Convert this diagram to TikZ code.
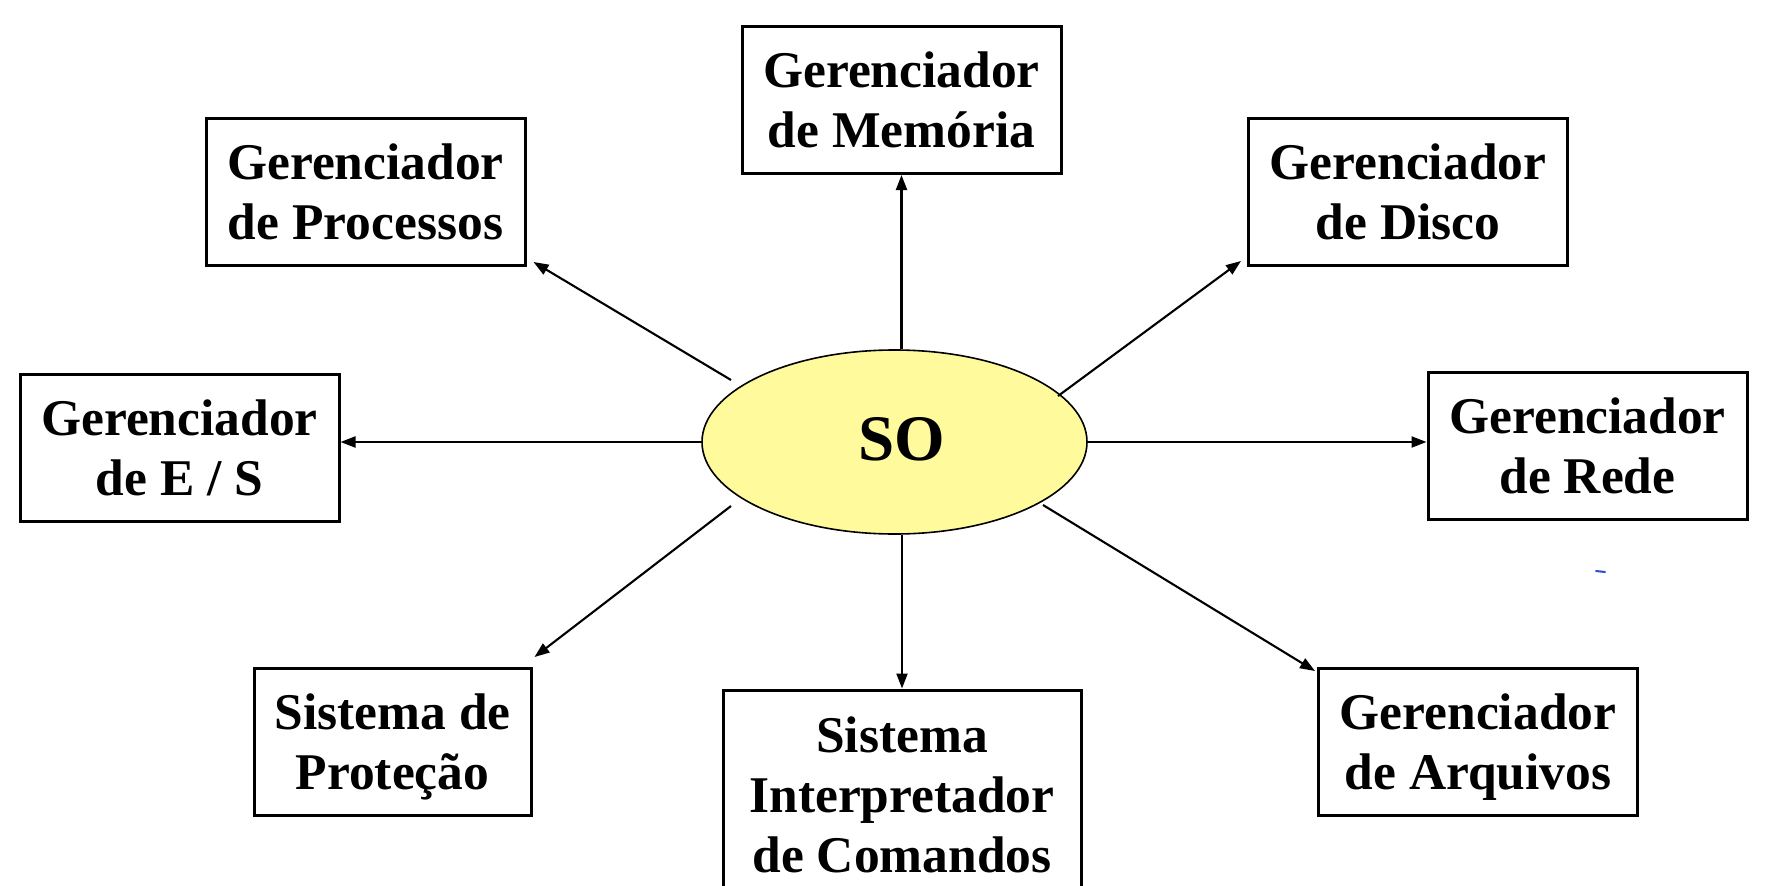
\documentclass[tikz,border=0pt]{standalone}
\usepackage{fontspec}
\setmainfont{Liberation Serif}
\usetikzlibrary{shapes.geometric,arrows.meta,calc}
\definecolor{soyellow}{HTML}{FFFB9C}
\definecolor{speck}{HTML}{2A4FD0}
\begin{document}
\begin{tikzpicture}[x=1pt,y=-1pt,
  box/.style={draw, line width=3pt, minimum height=147pt, minimum width=319pt,
    inner sep=0pt, align=center, text depth=0pt,
    font=\bfseries\fontsize{51.5}{60}\selectfont},
  arr/.style={line width=2.1pt, -{Triangle[length=15pt,width=11pt]}},
]
\useasboundingbox (0,0) rectangle (1783,886);
\node[ellipse, draw, line width=1.6pt, fill=soyellow, minimum width=385pt,
  minimum height=184pt, inner sep=0pt] (so) at (894.5,442) {};
\node[inner sep=0pt, font=\bfseries\fontsize{65}{70}\selectfont]
  (solabel) at ([xshift=7pt,yshift=3pt]so.center) {SO};

\node[box] (mem)   at (901.5,100)  {Gerenciador\\de Memória};
\node[box] (proc)  at (365.5,192) {Gerenciador\\de Processos};
\node[box] (disco) at (1408,192)  {Gerenciador\\de Disco};
\node[box] (es)    at (179.5,448) {Gerenciador\\de E / S};
\node[box] (rede)  at (1587.5,446) {Gerenciador\\de Rede};
\node[box, minimum width=277pt] (prot) at (392.5,742) {Sistema de\\Proteção};
\node[box] (arq)   at (1478,742)  {Gerenciador\\de Arquivos};
\node[box, minimum width=358pt, minimum height=210pt] (interp) at (902,795)
  {Sistema\\Interpretador\\de Comandos};

\draw[arr] (so.north -| mem.south) -- (mem.south);
\draw[arr] (so.south -| interp.north) -- (interp.north);
\draw[arr] (so.west) -- (so.west -| es.east);
\draw[arr] (so.east) -- (so.east -| rede.west);
\draw[arr] ($(so.center)+(-163.5,-62)$) -- ($(proc.south east)+(7,-5)$);
\draw[arr] ($(so.center)+(163.5,-46)$) -- ($(disco.south west)+(-6,-6)$);
\draw[arr] ($(so.center)+(-163.5,64)$) -- ($(prot.north east)+(2,-10)$);
\draw[arr] ($(so.center)+(148.5,63)$) -- ($(arq.north west)+(-2,4)$);

\draw[speck, line width=2pt, line cap=round] (1596,571) -- (1605,572);
\end{tikzpicture}
\end{document}
